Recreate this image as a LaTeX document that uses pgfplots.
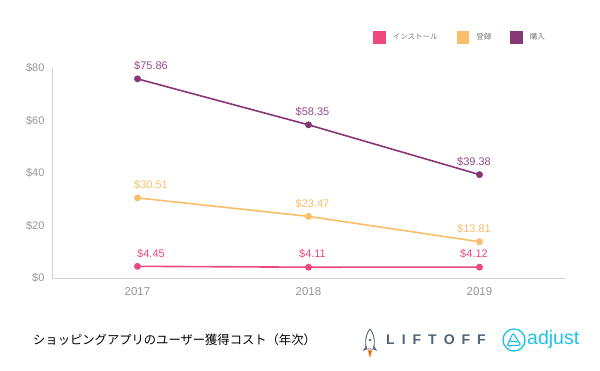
\documentclass[border=0pt]{standalone}
\usepackage{pgfplots}
\pgfplotsset{compat=1.18}
\usepackage{fontspec}
\setmainfont{Liberation Sans}
\newfontfamily\jp{Noto Sans CJK JP}
\definecolor{cpink}{RGB}{237,73,125}
\definecolor{corange}{RGB}{248,190,106}
\definecolor{cpurple}{RGB}{135,55,118}
\definecolor{lpurple}{RGB}{150,75,135}
\definecolor{axisgray}{RGB}{210,210,210}
\definecolor{tickgray}{RGB}{150,150,150}
\definecolor{leggray}{RGB}{120,120,120}
\definecolor{liftgray}{RGB}{80,100,118}
\definecolor{adjcyan}{RGB}{27,196,230}
\begin{document}
\begin{tikzpicture}[x=1pt,y=1pt]
\path[use as bounding box] (0,0) rectangle (600,371);
\begin{axis}[
  at={(52pt,93pt)}, anchor=south west,
  scale only axis, width=513pt, height=210pt,
  xmin=-0.5, xmax=2.5, ymin=0, ymax=80,
  axis x line=bottom, axis y line=left,
  axis line style={draw=axisgray, line width=0.9pt, -},
  xtick={0,1,2}, xticklabels={2017,2018,2019},
  ytick={0,20,40,60,80},
  yticklabel={\$\pgfmathprintnumber{\tick}},
  /pgf/number format/assume math mode=true,
  major tick length=0pt,
  tick label style={font=\fontsize{11}{13}\selectfont, text=tickgray},
  xticklabel style={yshift=-6pt, font=\fontsize{11.5}{13}\selectfont},
  yticklabel style={xshift=-4pt},
  clip=false,
  legend style={at={(0.62,1.145)}, anchor=west, draw=none, fill=none,
    legend columns=3, font=\jp\fontsize{7.5}{9}\selectfont, text=leggray,
    /tikz/every odd column/.append style={column sep=5pt},
    /tikz/every even column/.append style={column sep=17pt}},
  legend image code/.code={\fill[#1] (0pt,-5.5pt) rectangle (11pt,5.5pt);},
  point meta=y,
  nodes near coords={\$\pgfmathprintnumber[fixed,fixed zerofill,precision=2]{\pgfplotspointmeta}},
  visualization depends on={x \as \xv},
  every node near coord/.append style={font=\fontsize{11}{13}\selectfont, anchor=center,
    yshift=13pt, xshift={4pt-9.5pt*(\xv-1)}},
  every axis plot/.append style={line width=1.6pt, mark=*, mark size=2.6pt},
]
\addplot[color=cpink, every node near coord/.append style={text=cpink}] coordinates {(0,4.45) (1,4.11) (2,4.12)};
\addlegendentry{インストール}
\addplot[color=corange, every node near coord/.append style={text=corange}] coordinates {(0,30.51) (1,23.47) (2,13.81)};
\addlegendentry{登録}
\addplot[color=cpurple, every node near coord/.append style={text=lpurple}] coordinates {(0,75.86) (1,58.35) (2,39.38)};
\addlegendentry{購入}
\end{axis}
\node[anchor=west, font=\jp\fontsize{12.3}{14}\selectfont, inner sep=0pt] at (33,31) {ショッピングアプリのユーザー獲得コスト（年次）};
% rocket
\draw[liftgray, line width=0.9pt] (370,42) .. controls (375,36) and (375,28) .. (373.5,22) -- (366.5,22) .. controls (365,28) and (365,36) .. (370,42);
\draw[liftgray, line width=0.9pt] (366.5,25) -- (364,21) -- (366.5,22);
\draw[liftgray, line width=0.9pt] (373.5,25) -- (376,21) -- (373.5,22);
\fill[liftgray] (370,31) circle (1.3);
\fill[orange!80!red] (368,20.5) -- (372,20.5) -- (370,13) -- cycle;
\node[anchor=west, font=\bfseries\fontsize{14}{16}\selectfont, text=liftgray, inner sep=0pt] at (386,31) {L\hspace{7pt}I\hspace{7pt}F\hspace{7pt}T\hspace{7pt}O\hspace{7pt}F\hspace{7pt}F};
% adjust
\draw[adjcyan, line width=1.3pt] (514,31) circle (11);
\draw[adjcyan, line width=1.2pt, line join=round, rounded corners=1.5pt] (507,25) -- (513,38) -- (521,26) -- cycle;
\draw[adjcyan, line width=1.2pt] (510,30) -- (518,29);
\node[anchor=west, font=\fontsize{19.5}{22}\selectfont, text=adjcyan, inner sep=0pt] at (527,32) {adjust};
\end{tikzpicture}
\end{document}
